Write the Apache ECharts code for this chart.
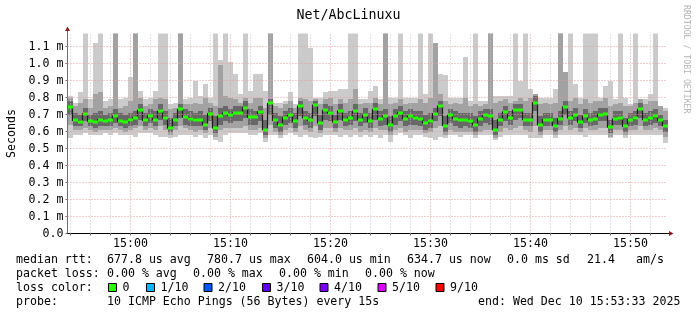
<!DOCTYPE html>
<html><head><meta charset="utf-8">
<script src="https://cdn.jsdelivr.net/npm/echarts@6/dist/echarts.min.js"></script>
<style>html,body{margin:0;padding:0;background:#fff;}#c{width:697px;height:315px;}</style>
</head><body><div id="c"></div>
<script>
const chartTitle = 'Net/AbcLinuxu';
const yAxisName = 'Seconds';
const startTime = '14:53:42';
const spanMin = 60;
const stepSec = 30;
const xTickLabels = ['15:00','15:10','15:20','15:30','15:40','15:50'];
const yTicks = [0,0.1,0.2,0.3,0.4,0.5,0.6,0.7,0.8,0.9,1.0,1.1];
const yMax = 1.1765;

// median rtt (ms)
const med = [0.745,0.665,0.655,0.705,0.66,0.655,0.67,0.66,0.67,0.69,0.66,0.655,0.665,0.68,0.725,0.665,0.69,0.67,0.72,0.68,0.62,0.67,0.73,0.685,0.675,0.67,0.67,0.64,0.705,0.62,
0.69,0.71,0.695,0.71,0.71,0.74,0.685,0.685,0.715,0.61,0.765,0.665,0.64,0.68,0.70,0.66,0.75,0.68,0.665,0.755,0.65,0.725,0.71,0.655,0.72,0.665,0.68,0.72,0.67,0.70,
0.66,0.73,0.675,0.69,0.64,0.69,0.71,0.675,0.69,0.68,0.675,0.65,0.66,0.705,0.75,0.635,0.695,0.675,0.665,0.67,0.66,0.64,0.675,0.695,0.69,0.61,0.67,0.715,0.68,0.725,
0.725,0.67,0.665,0.77,0.64,0.67,0.67,0.635,0.675,0.745,0.68,0.70,0.655,0.69,0.67,0.675,0.70,0.705,0.625,0.675,0.68,0.63,0.67,0.68,0.73,0.67,0.68,0.69,0.665,0.635];
// fastest ping
const mn = [0.56,0.58,0.58,0.59,0.58,0.58,0.58,0.59,0.58,0.59,0.58,0.58,0.58,0.57,0.59,0.59,0.59,0.58,0.57,0.57,0.56,0.57,0.58,0.58,0.58,0.57,0.58,0.56,0.58,0.55,
0.54,0.58,0.59,0.59,0.59,0.59,0.58,0.58,0.59,0.54,0.58,0.58,0.56,0.58,0.59,0.58,0.57,0.58,0.57,0.56,0.57,0.58,0.58,0.58,0.57,0.58,0.57,0.58,0.57,0.58,
0.57,0.58,0.56,0.58,0.54,0.58,0.59,0.58,0.56,0.58,0.58,0.57,0.56,0.55,0.57,0.56,0.58,0.58,0.57,0.58,0.58,0.56,0.58,0.58,0.58,0.55,0.57,0.58,0.58,0.58,
0.58,0.58,0.56,0.56,0.56,0.58,0.58,0.56,0.58,0.58,0.58,0.58,0.58,0.57,0.58,0.58,0.58,0.58,0.56,0.58,0.58,0.56,0.58,0.58,0.58,0.58,0.58,0.58,0.58,0.53];
// lower edge of the mid smoke
const dn = [0.64,0.61,0.61,0.62,0.61,0.60,0.61,0.61,0.61,0.62,0.61,0.60,0.61,0.62,0.63,0.61,0.62,0.61,0.63,0.61,0.58,0.61,0.63,0.62,0.61,0.60,0.61,0.59,0.62,0.57,
0.61,0.62,0.62,0.62,0.62,0.63,0.61,0.61,0.62,0.56,0.64,0.60,0.58,0.61,0.62,0.60,0.63,0.61,0.60,0.63,0.59,0.62,0.62,0.60,0.62,0.61,0.61,0.62,0.60,0.61,
0.60,0.62,0.61,0.61,0.58,0.61,0.62,0.60,0.61,0.61,0.61,0.59,0.60,0.62,0.63,0.58,0.61,0.60,0.60,0.60,0.60,0.58,0.60,0.61,0.61,0.56,0.60,0.62,0.61,0.62,
0.63,0.61,0.60,0.63,0.58,0.61,0.61,0.58,0.61,0.63,0.61,0.62,0.60,0.62,0.61,0.61,0.62,0.62,0.57,0.61,0.61,0.58,0.61,0.61,0.63,0.61,0.61,0.62,0.61,0.57];
// lower edge of the dark smoke
const lo = [0.70,0.63,0.63,0.66,0.63,0.62,0.63,0.63,0.63,0.65,0.63,0.62,0.63,0.64,0.67,0.63,0.65,0.63,0.67,0.64,0.60,0.63,0.68,0.64,0.63,0.63,0.63,0.61,0.66,0.59,
0.64,0.66,0.65,0.66,0.66,0.68,0.64,0.64,0.66,0.58,0.70,0.62,0.60,0.64,0.65,0.62,0.69,0.64,0.62,0.69,0.61,0.67,0.66,0.62,0.67,0.63,0.64,0.66,0.63,0.65,
0.62,0.67,0.63,0.64,0.60,0.64,0.66,0.63,0.64,0.64,0.63,0.61,0.62,0.66,0.69,0.60,0.65,0.63,0.62,0.63,0.62,0.60,0.63,0.65,0.64,0.58,0.63,0.66,0.64,0.67,
0.68,0.63,0.63,0.72,0.60,0.63,0.63,0.60,0.64,0.70,0.64,0.66,0.62,0.65,0.63,0.64,0.66,0.66,0.59,0.64,0.64,0.60,0.63,0.64,0.68,0.63,0.64,0.65,0.63,0.60];
// upper edge of the dark smoke
const hi = [0.78,0.71,0.70,0.74,0.70,0.71,0.72,0.70,0.71,0.73,0.71,0.70,0.71,0.72,0.76,0.71,0.73,0.72,0.76,0.72,0.68,0.71,0.76,0.73,0.72,0.71,0.72,0.70,0.74,0.69,
0.74,0.75,0.73,0.75,0.75,0.78,0.73,0.72,0.75,0.67,0.79,0.71,0.69,0.72,0.74,0.71,0.78,0.72,0.71,0.78,0.70,0.76,0.75,0.70,0.76,0.71,0.72,0.76,0.71,0.74,
0.71,0.77,0.72,0.73,0.69,0.73,0.75,0.72,0.73,0.72,0.72,0.70,0.71,0.74,0.78,0.69,0.73,0.72,0.71,0.71,0.71,0.69,0.72,0.73,0.73,0.67,0.71,0.75,0.72,0.76,
0.76,0.71,0.71,0.81,0.69,0.71,0.71,0.68,0.72,0.78,0.72,0.74,0.70,0.73,0.71,0.72,0.74,0.74,0.67,0.72,0.72,0.68,0.71,0.72,0.77,0.71,0.72,0.73,0.70,0.67];
// upper edge of the mid smoke
const up = [0.80,0.75,0.77,0.79,0.74,0.82,0.83,0.74,0.75,1.18,0.74,0.75,0.78,1.18,0.80,0.75,0.76,0.79,0.80,0.79,0.73,0.74,1.18,0.76,0.76,0.77,0.76,0.80,0.77,0.75,
0.99,0.81,0.80,0.79,0.77,0.80,0.77,0.80,0.80,0.74,1.18,0.75,0.74,0.76,0.78,0.74,0.80,0.79,0.78,0.79,0.76,0.79,0.80,0.76,0.79,0.77,0.79,0.85,0.76,0.77,
0.77,0.80,0.76,1.18,0.76,0.77,0.79,0.76,0.77,0.77,0.79,0.77,0.80,1.12,0.82,0.78,0.76,0.77,0.76,0.80,0.75,0.76,0.75,0.76,1.18,0.77,0.78,0.79,0.77,0.78,
0.80,0.78,0.80,0.82,0.76,0.77,0.76,0.77,1.18,0.95,0.78,0.80,0.76,0.79,0.77,0.78,0.78,0.80,0.75,0.76,0.77,0.75,0.75,0.77,0.79,0.76,0.78,0.78,0.75,0.72];
// slowest ping
const mx = [0.81,0.77,0.83,1.18,0.79,1.12,1.18,0.78,0.79,1.18,0.79,0.80,0.92,1.18,0.84,0.79,0.80,0.84,1.18,1.18,0.76,0.77,1.18,0.79,0.80,0.90,0.81,0.88,0.80,1.18,
1.02,1.18,1.01,0.94,0.82,1.18,0.84,0.94,0.94,0.84,1.18,0.77,0.77,0.78,0.83,0.76,1.18,1.18,1.09,0.80,0.80,0.83,0.84,0.84,0.85,0.85,1.18,1.18,0.79,0.79,
0.84,0.87,0.79,1.18,0.80,0.80,1.18,0.80,0.80,0.80,1.18,0.82,1.18,1.12,0.94,0.93,0.80,0.80,0.80,1.04,0.78,1.18,0.78,0.78,1.18,0.81,0.81,0.81,0.81,1.18,
0.90,1.18,0.85,0.82,0.80,0.80,0.80,0.85,1.18,0.95,1.18,0.88,0.80,1.18,1.18,1.18,0.80,0.87,0.90,0.79,1.18,0.80,0.76,1.18,0.79,0.79,0.82,1.18,0.75,0.74];

const legendRows = [
  {label:'median rtt:', items:[['677.8 us avg',107],['780.7 us max',207],['604.0 us min',307],['634.7 us now',407],['0.0 ms sd',507],['21.4',587],['am/s',636]]},
  {label:'packet loss:', items:[['0.00 % avg',107],['0.00 % max',193],['0.00 % min',279],['0.00 % now',365]]},
  {label:'loss color:', items:[]},
  {label:'probe:', items:[['10 ICMP Echo Pings (56 Bytes) every 15s',107],['end: Wed Dec 10 15:53:33 2025',478]]}
];
const lossLabels = ['0','1/10','2/10','3/10','4/10','5/10','9/10'];
const lossColors = ['#26ff00','#00b8ff','#0059ff','#5e00ff','#7e00ff','#dd00ff','#ff0000'];
const lossBoxX = [108,146,203.5,262,319.5,377.5,435.5];
const rowY = [259.5,273.5,287.5,301.5];

const FONT = 'DejaVu Sans Mono';
const FS = 11.6;
function toMin(s){const p=s.split(':').map(Number);return p[0]*60+p[1]+(p[2]||0)/60;}
const startMin = toMin(startTime);
const stepMin = stepSec/60;
const majorX = xTickLabels.map(toMin);
const minorX = [];
for (let m = Math.ceil(startMin/2)*2; m <= startMin+spanMin; m += 2) minorX.push(m);

const smokeData = med.map((v,i)=>[startMin+i*stepMin, mn[i], dn[i], lo[i], hi[i], up[i], mx[i], v]);
const lineData = med.map((v,i)=>[startMin+i*stepMin, v]);
lineData.push([startMin+med.length*stepMin, med[med.length-1]]);

const chart = echarts.init(document.getElementById('c'), null, {renderer:'canvas'});
const bands = [[1,6,'#cbcbcb'],[2,5,'#a2a2a2'],[3,4,'#686868']];
function smokeItem(params, api){
  const x0 = api.value(0), x1 = x0+stepMin;
  const children = bands.map(b=>{
    const pA = api.coord([x0, api.value(b[0])]), pB = api.coord([x1, api.value(b[1])]);
    const xa = Math.round(pA[0]), xb = Math.round(pB[0]);
    const ya = Math.round(pA[1]), yb = Math.round(pB[1]);
    return {type:'rect', shape:{x:xa, y:yb, width:xb-xa, height:ya-yb}, style:{fill:b[2]}};
  });
  return {type:'group', children};
}
function medItem(params, api){
  const x0 = api.value(0), x1 = x0+stepMin;
  const pA = api.coord([x0, api.value(7)]), pB = api.coord([x1, api.value(7)]);
  const xa = Math.round(pA[0]), xb = Math.round(pB[0]);
  return {type:'rect', shape:{x:xa, y:Math.round(pA[1])-1.5, width:xb-xa, height:3}, style:{fill:'#26ff00'}};
}
const gridLineStyle = {type:[1,2], width:1};
const gridMarks = [];
minorX.filter(m=>majorX.indexOf(m)<0).forEach(m=>gridMarks.push({xAxis:m, lineStyle:Object.assign({color:'#c4c4c4'},gridLineStyle)}));
majorX.forEach(m=>gridMarks.push({xAxis:m, lineStyle:Object.assign({color:'#e39a9a'},gridLineStyle)}));
yTicks.filter(v=>v>0).forEach(v=>gridMarks.push({yAxis:v, lineStyle:Object.assign({color:'#e39a9a'},gridLineStyle)}));

function fmtTime(v){const h=Math.floor(v/60+1e-6), m=Math.round(v-h*60);return h+':'+(m<10?'0':'')+m;}

const graphics = [];
legendRows.forEach((r,ri)=>{
  graphics.push({type:'text', x:16, y:rowY[ri], style:{text:r.label, font:FS+'px "'+FONT+'"', fill:'#000', textVerticalAlign:'middle'}});
  r.items.forEach(it=>graphics.push({type:'text', x:it[1], y:rowY[ri], style:{text:it[0], font:FS+'px "'+FONT+'"', fill:'#000', textVerticalAlign:'middle'}}));
});
lossLabels.forEach((l,i)=>{
  graphics.push({type:'rect', shape:{x:lossBoxX[i]+0.5, y:283.5, width:8, height:8}, style:{fill:lossColors[i], stroke:'#000', lineWidth:1}});
  graphics.push({type:'text', x:lossBoxX[i]+14.5, y:rowY[2], style:{text:l, font:FS+'px "'+FONT+'"', fill:'#000', textVerticalAlign:'middle'}});
});
graphics.push({type:'text', x:686, y:5, rotation:-Math.PI/2, style:{text:'RRDTOOL / TOBI OETIKER', font:'8.2px "'+FONT+'"', fill:'#b4b4b4', textVerticalAlign:'middle'}});

chart.setOption({
  animation:false,
  backgroundColor:'#ffffff',
  title:{text:chartTitle, left:'center', top:4, textStyle:{fontFamily:FONT, fontSize:13.3, fontWeight:'normal', color:'#000'}},
  grid:{left:67.5, top:33.5, width:600, height:200, containLabel:false, outerBoundsMode:'none'},
  xAxis:{type:'value', min:startMin, max:startMin+spanMin,
    axisLine:{show:true, lineStyle:{color:'#000', width:1}},
    axisTick:{show:true, customValues:minorX, length:2, lineStyle:{color:'#666'}},
    axisLabel:{customValues:majorX, formatter:fmtTime, margin:4, fontFamily:FONT, fontSize:FS, color:'#000'},
    splitLine:{show:false}},
  yAxis:{type:'value', min:0, max:yMax, name:yAxisName, nameLocation:'middle', nameGap:50, nameRotate:90,
    nameTextStyle:{fontFamily:FONT, fontSize:FS, color:'#000'},
    axisLine:{show:true, lineStyle:{color:'#707070', width:1}},
    axisTick:{show:true, customValues:yTicks, length:2, lineStyle:{color:'#666'}},
    axisLabel:{customValues:yTicks, formatter:v=>Math.abs(v)<1e-9?'0.0':v.toFixed(1)+' m', margin:4, fontFamily:FONT, fontSize:FS, color:'#000'},
    splitLine:{show:false}},
  series:[
    {type:'custom', name:'smoke', renderItem:smokeItem, data:smokeData, clip:true, z:1, silent:true,
      encode:{x:0, y:[1,6]}},
    {type:'line', name:'gridlines', data:[], z:3, silent:true, symbol:'none',
      markLine:{silent:true, symbol:['none','none'], label:{show:false}, animation:false, data:gridMarks}},
    {type:'line', name:'median', data:lineData, step:'end', symbol:'none', z:4, silent:true,
      lineStyle:{color:'#1c1c1c', width:1.2}},
    {type:'custom', name:'medianbar', renderItem:medItem, data:smokeData, clip:true, z:5, silent:true,
      encode:{x:0, y:7}}
  ],
  graphic:graphics
});
// axis arrows
const tl = chart.convertToPixel({xAxisIndex:0, yAxisIndex:0}, [startMin, yMax]);
const br = chart.convertToPixel({xAxisIndex:0, yAxisIndex:0}, [startMin+spanMin, 0]);
const ax = Math.floor(tl[0])+0.5, ay = Math.floor(br[1])+0.5;
chart.setOption({graphic:graphics.concat([
  {type:'line', shape:{x1:ax, y1:tl[1], x2:ax, y2:tl[1]-3}, style:{stroke:'#707070', lineWidth:1}},
  {type:'polygon', shape:{points:[[ax-2.5,31],[ax+2.5,31],[ax,26.5]]}, style:{fill:'#8b1d1d'}},
  {type:'line', shape:{x1:br[0], y1:ay, x2:br[0]+3, y2:ay}, style:{stroke:'#000', lineWidth:1}},
  {type:'polygon', shape:{points:[[br[0]+1.5,ay-2.5],[br[0]+1.5,ay+2.5],[br[0]+6,ay]]}, style:{fill:'#8b1d1d'}}
])});
</script></body></html>
